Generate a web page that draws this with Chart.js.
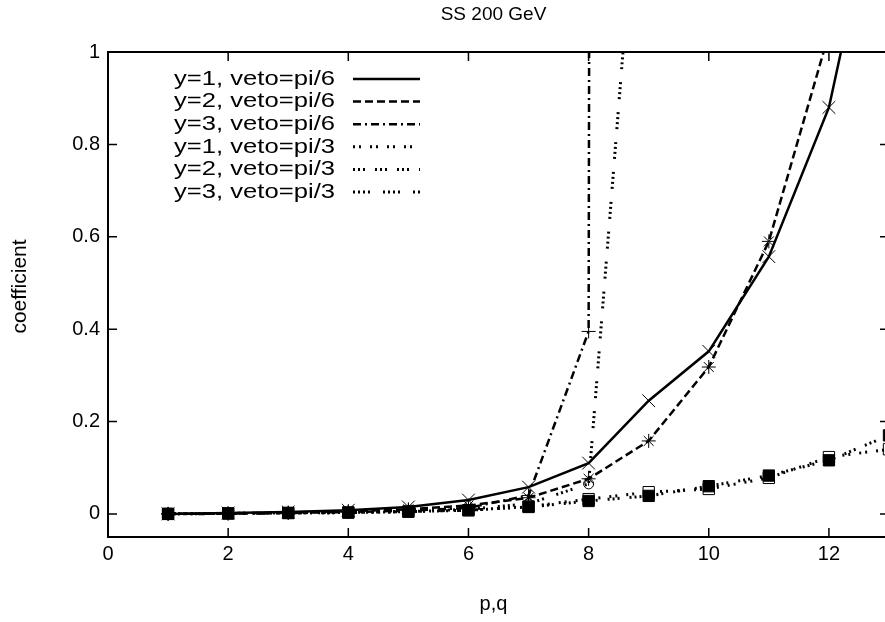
<!DOCTYPE html>
<html><head><meta charset="utf-8">
<script src="https://cdn.jsdelivr.net/npm/chart.js@4/dist/chart.umd.min.js"></script>
<style>html,body{margin:0;padding:0;overflow:hidden;background:#fff}</style>
</head><body>
<div style="width:890px;height:622px"><canvas id="c" width="890" height="622"></canvas></div>
<script>
const chartTitle = 'SS 200 GeV';
const xAxisTitle = 'p,q';
const yAxisTitle = 'coefficient';
const xTickValues = [0, 2, 4, 6, 8, 10, 12];
const yTickValues = [0, 0.2, 0.4, 0.6, 0.8, 1];
const yTickLabels = ['0', '0.2', '0.4', '0.6', '0.8', '1'];
const pq = [1, 2, 3, 4, 5, 6, 7, 8, 9, 10, 11, 12, 13];
const seriesLabels = ['y=1, veto=pi/6', 'y=2, veto=pi/6', 'y=3, veto=pi/6',
                      'y=1, veto=pi/3', 'y=2, veto=pi/3', 'y=3, veto=pi/3'];
const y1pi6 = [0.000, 0.002, 0.004, 0.008, 0.015, 0.030, 0.058, 0.110, 0.245, 0.352, 0.557, 0.880, 1.48];
const y2pi6 = [0.000, 0.001, 0.003, 0.006, 0.010, 0.018, 0.035, 0.076, 0.158, 0.318, 0.590, 1.040];
const y3pi6 = [0.000, 0.001, 0.002, 0.004, 0.007, 0.013, 0.040, 0.395, 120];
const y1pi3 = [0.000, 0.001, 0.002, 0.003, 0.005, 0.008, 0.016, 0.032, 0.047, 0.054, 0.078, 0.123, 0.140];
const y2pi3 = [0.000, 0.001, 0.002, 0.003, 0.005, 0.008, 0.015, 0.028, 0.039, 0.060, 0.083, 0.116, 0.170];
const y3pi3 = [0.000, 0.001, 0.002, 0.003, 0.005, 0.010, 0.022, 0.065, 1.70];

const series = [y1pi6, y2pi6, y3pi6, y1pi3, y2pi3, y3pi3];
const dashes = [[], [8, 4], [8, 4, 2, 4], [2, 4, 2, 9], [2, 3, 2, 3, 2, 10], [2, 3, 2, 3, 2, 3, 2, 13]];
const styles = ['crossRot', 'star', 'cross', 'rect', 'rect', 'circle'];
const radii = [9, 7, 7, 8, 8, 5];
const fills = ['#000', '#000', '#000', 'rgba(0,0,0,0)', '#000', 'rgba(0,0,0,0)'];
const orders = [6, 5, 4, 3, 1, 2];

const FONT = "'Liberation Sans', Arial, sans-serif";
Chart.defaults.font.family = FONT;
Chart.defaults.font.size = 20;
Chart.defaults.color = '#000';

const datasets = series.map((vals, i) => ({
  label: seriesLabels[i],
  data: vals.map((v, j) => ({x: pq[j], y: v})),
  borderColor: '#000',
  borderWidth: i < 3 ? 2.5 : 3,
  borderDash: dashes[i],
  pointStyle: styles[i],
  pointRadius: radii[i],
  pointBorderWidth: 1,
  pointBorderColor: '#000',
  pointBackgroundColor: fills[i],
  tension: 0,
  fill: false,
  order: orders[i]
}));

const framePlugin = {
  id: 'frame',
  afterDraw(chart) {
    const {ctx, chartArea: a, scales: {x, y}} = chart;
    ctx.save();
    ctx.strokeStyle = '#000';
    ctx.setLineDash([]);
    ctx.lineWidth = 2;
    ctx.strokeRect(a.left, a.top, a.right - a.left, a.bottom - a.top);
    ctx.lineWidth = 1.5;
    const L = 9;
    ctx.beginPath();
    xTickValues.forEach(v => {
      const p = x.getPixelForValue(v);
      ctx.moveTo(p, a.bottom); ctx.lineTo(p, a.bottom - L);
      ctx.moveTo(p, a.top); ctx.lineTo(p, a.top + L);
    });
    yTickValues.forEach(v => {
      const p = y.getPixelForValue(v);
      ctx.moveTo(a.left, p); ctx.lineTo(a.left + L, p);
      ctx.moveTo(a.right, p); ctx.lineTo(a.right - L, p);
    });
    ctx.stroke();

    // titles (gnuplot-style placement)
    const midX = (a.left + a.right) / 2 - 5;
    const midY = (a.top + a.bottom) / 2 - 8;
    ctx.fillStyle = '#000';
    ctx.textAlign = 'center';
    ctx.textBaseline = 'middle';
    ctx.font = '19px ' + FONT;
    ctx.fillText(chartTitle, midX, a.top - 37);
    ctx.font = '20px ' + FONT;
    ctx.fillText(xAxisTitle, midX, a.bottom + 67);
    ctx.translate(20, midY);
    ctx.rotate(-Math.PI / 2);
    ctx.font = '21px ' + FONT;
    ctx.fillText(yAxisTitle, 0, 0);
    ctx.restore();
  }
};

const keyPlugin = {
  id: 'key',
  afterDatasetsDraw(chart) {
    const {ctx, chartArea: a} = chart;
    chart.data.datasets.forEach((ds, i) => {
      const yy = a.top + 27 + i * 22.6;
      ctx.save();
      ctx.font = '21px ' + FONT;
      ctx.fillStyle = '#000';
      ctx.textAlign = 'right';
      ctx.textBaseline = 'middle';
      ctx.translate(a.left + 227, yy);
      ctx.scale(1.22, 1);
      ctx.fillText(ds.label, 0, 0);
      ctx.restore();
      ctx.save();
      ctx.strokeStyle = '#000';
      ctx.lineWidth = ds.borderWidth;
      ctx.setLineDash(ds.borderDash);
      ctx.beginPath();
      ctx.moveTo(a.left + 245, yy);
      ctx.lineTo(a.left + 312, yy);
      ctx.stroke();
      ctx.restore();
    });
  }
};

new Chart(document.getElementById('c'), {
  type: 'line',
  data: {datasets},
  options: {
    responsive: false,
    animation: false,
    layout: {autoPadding: false, padding: {left: 0, right: 1, top: 52, bottom: 0}},
    plugins: {
      legend: {display: false},
      tooltip: {enabled: false},
      title: {display: false}
    },
    scales: {
      x: {
        type: 'linear', min: 0, max: 13,
        grid: {display: false, drawTicks: false},
        border: {display: false},
        afterBuildTicks: s => { s.ticks = xTickValues.map(v => ({value: v})); },
        afterFit: s => { s.height = 85; s.paddingLeft = 0; s.paddingRight = 0; },
        ticks: {padding: 5, maxRotation: 0, callback: v => String(v)},
        title: {display: false}
      },
      y: {
        type: 'linear', min: -0.05, max: 1,
        grid: {display: false, drawTicks: false},
        border: {display: false},
        afterBuildTicks: s => { s.ticks = yTickValues.map(v => ({value: v})); },
        afterFit: s => { s.width = 108; s.paddingTop = 0; s.paddingBottom = 0; },
        ticks: {padding: 8, callback: (v) => { const k = yTickValues.indexOf(v); return k >= 0 ? yTickLabels[k] : ''; }},
        title: {display: false}
      }
    }
  },
  plugins: [framePlugin, keyPlugin]
});
</script>
</body></html>
